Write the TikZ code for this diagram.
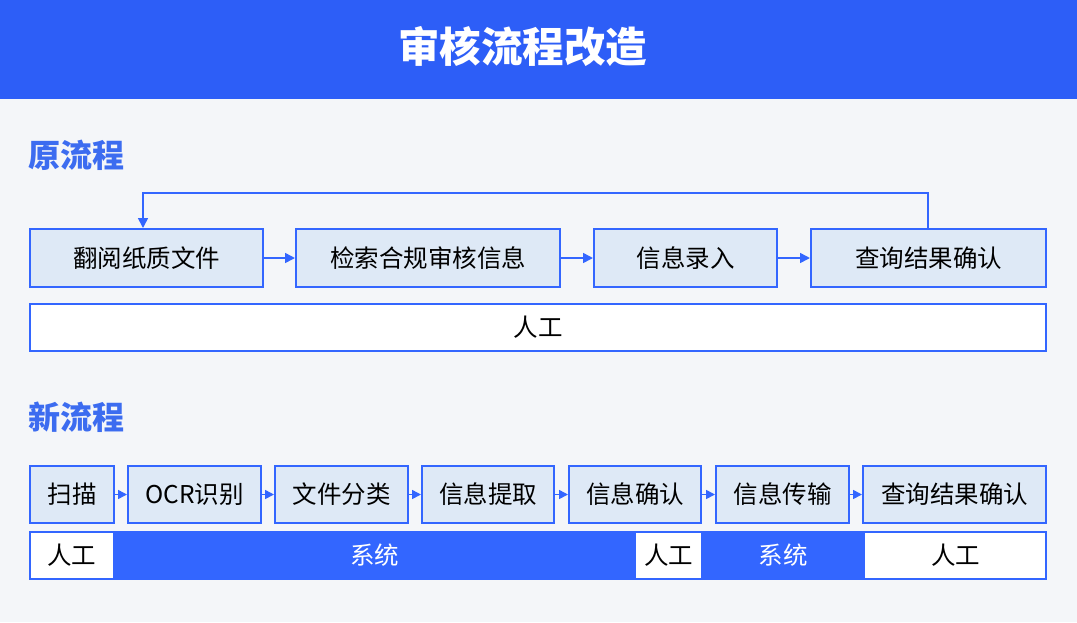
\documentclass[tikz,border=0pt]{standalone}
\usepackage{fontspec}
\setmainfont{Noto Sans CJK SC}
\usetikzlibrary{arrows.meta}
\definecolor{titlebar}{HTML}{2D5EF7}
\definecolor{mainblue}{HTML}{3366FF}
\definecolor{secblue}{HTML}{3C6CF0}
\definecolor{boxfill}{HTML}{DEE9F6}
\definecolor{bgcol}{HTML}{F4F6F9}
\tikzset{
  stepbox/.style={draw=mainblue, line width=2pt, fill=boxfill, inner sep=0pt,
    minimum height=#1, font=\fontsize{24.5}{28}\selectfont, text=black},
  stepbox/.default=58pt,
  flowarrow/.style={draw=mainblue, line width=1.6pt, -{Triangle[length=10pt,width=10pt]}},
  smallarrow/.style={draw=mainblue, line width=1.6pt, -{Triangle[length=9pt,width=9pt]}},
  seg/.style={inner sep=0pt, minimum height=45pt, font=\fontsize{24.5}{28}\selectfont},
  whiteseg/.style={seg, fill=white, text=black},
  blueseg/.style={seg, fill=mainblue, text=white},
  sectitle/.style={anchor=west, inner sep=0pt, text=secblue, font=\bfseries\fontsize{32}{36}\selectfont},
}
\begin{document}
\begin{tikzpicture}[x=1pt,y=-1pt]
\useasboundingbox (0,0) rectangle (1077,622);
\fill[bgcol] (0,0) rectangle (1077,622);
\fill[titlebar] (0,0) rectangle (1077,99);
\node[text=white, font=\bfseries\fontsize{41.5}{46}\selectfont] (title) at (522.5,46) {审核流程改造};

% old flow
\node[sectitle] (oldt) at (28,155) {原流程};
\node[stepbox, minimum width=233pt] (o1) at (146.5,258) {翻阅纸质文件};
\node[stepbox, minimum width=264pt] (o2) at (428,258) {检索合规审核信息};
\node[stepbox, minimum width=183pt] (o3) at (685.5,258) {信息录入};
\node[stepbox, minimum width=235pt] (o4) at (928.5,258) {查询结果确认};
\draw[flowarrow] (o1.east) -- (o2.west);
\draw[flowarrow] (o2.east) -- (o3.west);
\draw[flowarrow] (o3.east) -- (o4.west);
\coordinate (fbr) at (928,193);
\coordinate (fbl) at (143,193);
\draw[flowarrow] (o4.north -| fbr) -- (fbr) -- (fbl) -- (o1.north -| fbl);
\node[stepbox=47pt, fill=white, minimum width=1016pt] (oman) at (538,327.5) {人工};

% new flow
\node[sectitle] (newt) at (28,417.5) {新流程};
\node[stepbox=57pt, minimum width=84pt] (n1) at (72,494.5) {扫描};
\node[stepbox=57pt, minimum width=133pt] (n2) at (194.5,494.5) {OCR识别};
\node[stepbox=57pt, minimum width=133pt] (n3) at (341.5,494.5) {文件分类};
\node[stepbox=57pt, minimum width=132pt] (n4) at (488,494.5) {信息提取};
\node[stepbox=57pt, minimum width=132pt] (n5) at (635,494.5) {信息确认};
\node[stepbox=57pt, minimum width=133pt] (n6) at (782.5,494.5) {信息传输};
\node[stepbox=57pt, minimum width=183pt] (n7) at (954.5,494.5) {查询结果确认};
\foreach \a/\b in {n1/n2,n2/n3,n3/n4,n4/n5,n5/n6,n6/n7}
  \draw[smallarrow] (\a.east) -- (\b.west);

% role bar
\node[whiteseg, minimum width=83pt] (r1) at (71.5,555.5) {人工};
\node[blueseg, minimum width=523pt] (r2) at (374.5,555.5) {系统};
\node[whiteseg, minimum width=65pt] (r3) at (668.5,555.5) {人工};
\node[blueseg, minimum width=164pt] (r4) at (783,555.5) {系统};
\node[whiteseg, minimum width=181pt] (r5) at (955.5,555.5) {人工};
\draw[mainblue, line width=2pt] ([yshift=1pt]r1.north west) rectangle ([yshift=-1pt]r5.south east);
\end{tikzpicture}
\end{document}
